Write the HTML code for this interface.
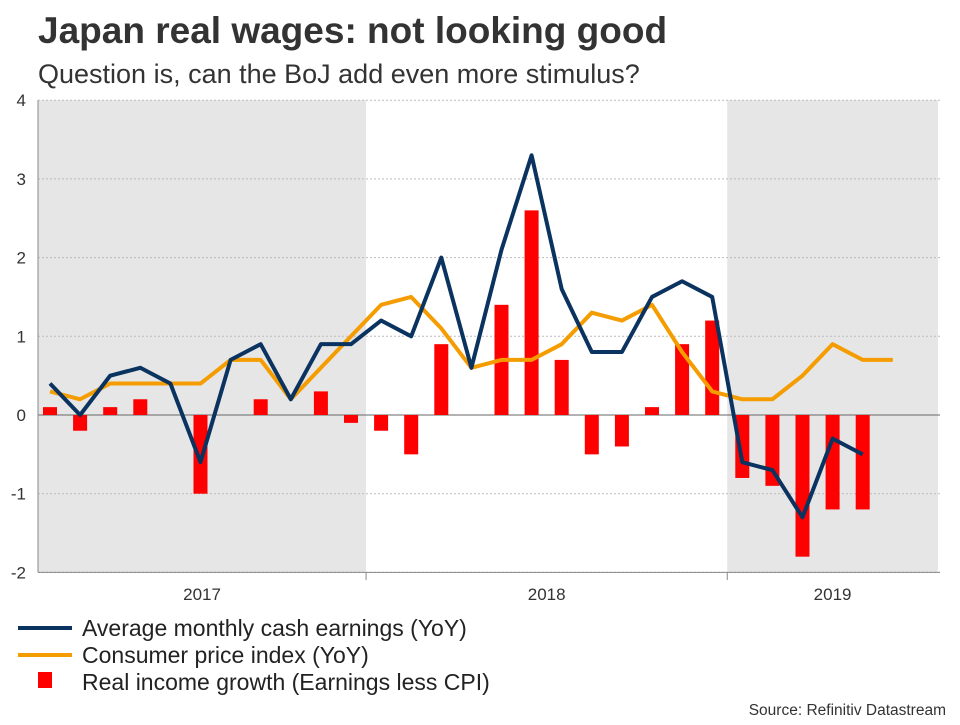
<!DOCTYPE html>
<html><head><meta charset="utf-8"><style>
body{margin:0;background:#fff;font-family:"Liberation Sans",Arial,sans-serif;}
svg text{font-family:"Liberation Sans",Arial,sans-serif;}
</style></head><body>
<svg id="chart" width="960" height="720">
<text x="38" y="43" font-size="37" font-weight="bold" fill="#333">Japan real wages: not looking good</text>
<text x="38" y="83" font-size="27" fill="#333">Question is, can the BoJ add even more stimulus?</text>
<g id="plot"></g>
<g>
<line x1="18" y1="628" x2="72" y2="628" stroke="#0b3360" stroke-width="4"/>
<text x="82" y="636" font-size="23" fill="#222">Average monthly cash earnings (YoY)</text>
<line x1="18" y1="655" x2="72" y2="655" stroke="#f59c00" stroke-width="4"/>
<text x="82" y="663" font-size="23" fill="#222">Consumer price index (YoY)</text>
<rect x="38" y="672" width="14" height="16" fill="#ff0000"/>
<text x="82" y="690" font-size="23" fill="#222">Real income growth (Earnings less CPI)</text>
</g>
<text x="946" y="715" font-size="15.5" fill="#333" text-anchor="end">Source: Refinitiv Datastream</text>
</svg>
<script>
const months = ["Feb17","Mar17","Apr17","May17","Jun17","Jul17","Aug17","Sep17","Oct17","Nov17","Dec17","Jan18","Feb18","Mar18","Apr18","May18","Jun18","Jul18","Aug18","Sep18","Oct18","Nov18","Dec18","Jan19","Feb19","Mar19","Apr19","May19","Jun19","Jul19"];
const earnings = [0.4,0.0,0.5,0.6,0.4,-0.6,0.7,0.9,0.2,0.9,0.9,1.2,1.0,2.0,0.6,2.1,3.3,1.6,0.8,0.8,1.5,1.7,1.5,-0.6,-0.7,-1.3,-0.3,-0.5,null,null];
const cpi = [0.3,0.2,0.4,0.4,0.4,0.4,0.7,0.7,0.2,0.6,1.0,1.4,1.5,1.1,0.6,0.7,0.7,0.9,1.3,1.2,1.4,0.8,0.3,0.2,0.2,0.5,0.9,0.7,0.7,null];
const real = [0.1,-0.2,0.1,0.2,0,-1.0,0,0.2,0,0.3,-0.1,-0.2,-0.5,0.9,0,1.4,2.6,0.7,-0.5,-0.4,0.1,0.9,1.2,-0.8,-0.9,-1.8,-1.2,-1.2,null,null];
const yTicks = [4,3,2,1,0,-1,-2];
const years = [{label:"2017",start:0,end:11,shade:true},{label:"2018",start:11,end:23,shade:false},{label:"2019",start:23,end:30,shade:true}];

const NS="http://www.w3.org/2000/svg";
const g=document.getElementById('plot');
const L=38,R=940;
const step=30.1;
const x=i=>50+step*i;
const y=v=>415-v*78.7;
function mk(t,a){const e=document.createElementNS(NS,t);for(const k in a)e.setAttribute(k,a[k]);g.appendChild(e);return e;}
years.forEach(yr=>{
  const x1=Math.max(L,x(yr.start)-step/2), x2=Math.min(R,x(yr.end)-step/2);
  if(yr.shade){const r=mk('rect',{x:x1,y:y(4),width:x2-x1,height:y(-2)-y(4),fill:'#e6e6e6'});
  
  }
  const t=mk('text',{x:(x1+x2)/2,y:600,'font-size':17,fill:'#333','text-anchor':'middle'});t.textContent=yr.label;
  
  
  if(yr.start>0){const tk=mk('line',{x1:x1,x2:x1,y1:573,y2:580,stroke:'#888'});
  
  }
});
yTicks.forEach(v=>{
  const ln=mk('line',{x1:L,x2:R,y1:y(v),y2:y(v),stroke:v===0?'#666':'#bbb','stroke-dasharray':v===0?'':'2,2','stroke-width':1});
  
  
  const t=mk('text',{x:26,y:y(v)+6,'font-size':17,fill:'#333','text-anchor':'end'});t.textContent=v;
  
  
});
const ax=mk('line',{x1:L,x2:L,y1:y(4),y2:y(-2),stroke:'#888'});


const bx=mk('line',{x1:L,x2:R,y1:y(-2),y2:y(-2),stroke:'#888'});


real.forEach((v,i)=>{
  if(v===null||v===0)return;
  const b=mk('rect',{x:x(i)-7,y:Math.min(y(0),y(v)),width:14,height:Math.abs(y(v)-y(0)),fill:'#ff0000'});
  
  
});
function line(arr,color,name){
  const pts=arr.map((v,i)=>v===null?null:x(i)+','+y(v)).filter(p=>p);
  const p=mk('polyline',{points:pts.join(' '),fill:'none',stroke:color,'stroke-width':4,'stroke-linejoin':'round'});
  
  
}
line(cpi,'#f59c00','cpi-line');
line(earnings,'#0b3360','earnings-line');
</script>
</body></html>
